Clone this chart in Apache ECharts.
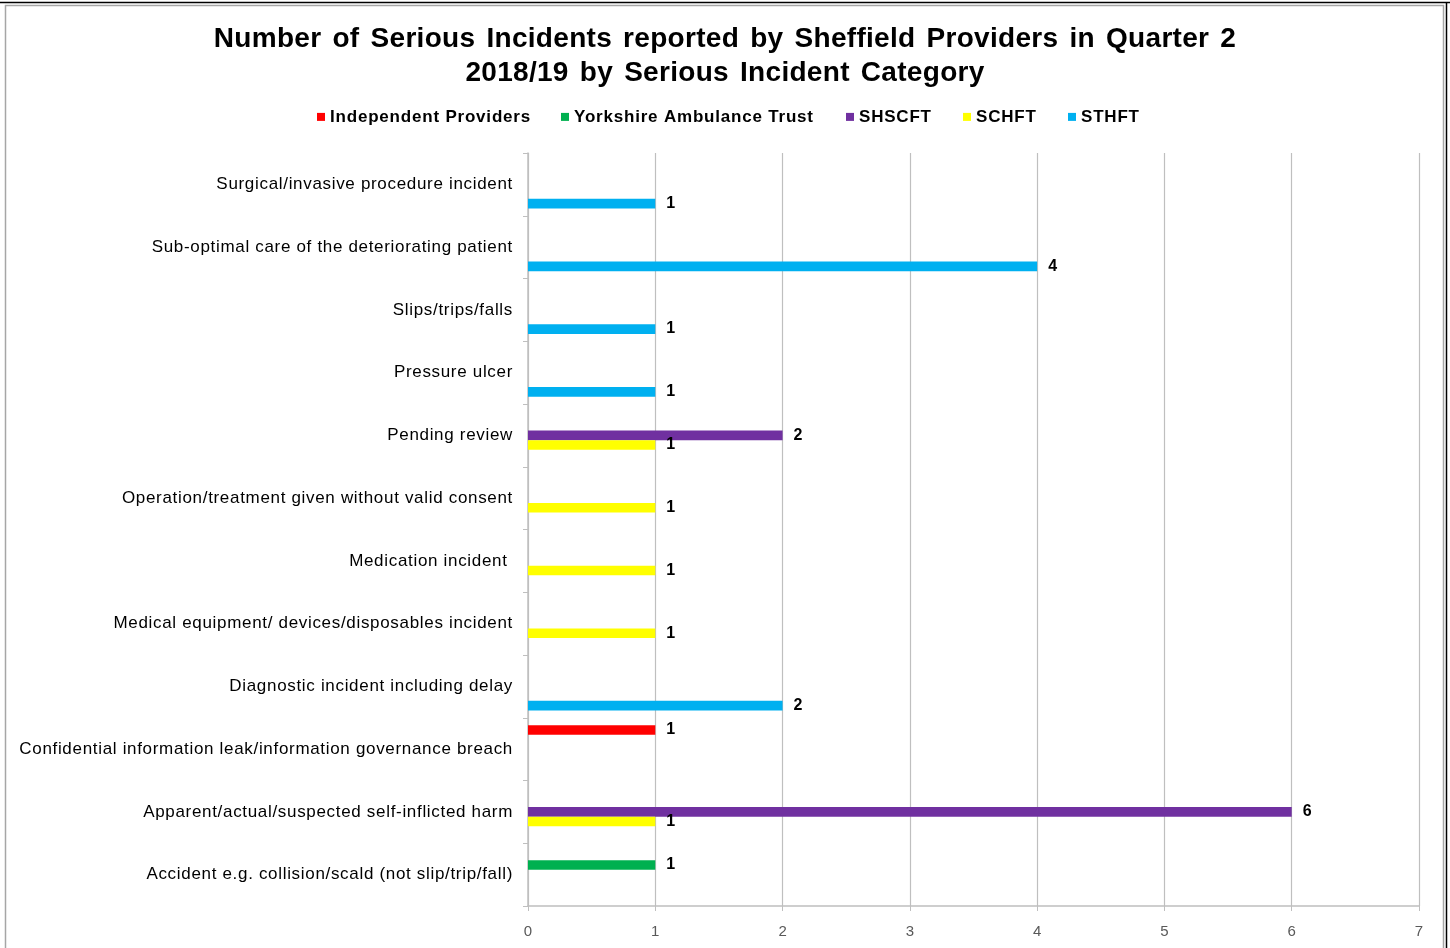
<!DOCTYPE html>
<html>
<head>
<meta charset="utf-8">
<script src="https://cdn.jsdelivr.net/npm/echarts@6/dist/echarts.min.js"></script>
<style>
html,body{margin:0;padding:0;background:#fff;}
#chart{width:1450px;height:948px;}
</style>
</head>
<body>
<div id="chart"></div>
<script>
var categories = [
  'Surgical/invasive procedure incident',
  'Sub-optimal care of the deteriorating patient',
  'Slips/trips/falls',
  'Pressure ulcer',
  'Pending review',
  'Operation/treatment given without valid consent',
  'Medication incident ',
  'Medical equipment/ devices/disposables incident',
  'Diagnostic incident including delay',
  'Confidential information leak/information governance breach',
  'Apparent/actual/suspected self-inflicted harm',
  'Accident e.g. collision/scald (not slip/trip/fall)'
];
var seriesNames = ['Independent Providers', 'Yorkshire Ambulance Trust', 'SHSCFT', 'SCHFT', 'STHFT'];
var independentProviders = [null, null, null, null, null, null, null, null, null, 1, null, null];
var yorkshireAmbulance   = [null, null, null, null, null, null, null, null, null, null, null, 1];
var shscft               = [null, null, null, null, 2, null, null, null, null, null, 6, null];
var schft                = [null, null, null, null, 1, 1, 1, 1, null, null, 1, null];
var sthft                = [1, 4, 1, 1, null, null, null, null, 2, null, null, null];
var xTicks = [0, 1, 2, 3, 4, 5, 6, 7];

var seriesData = [independentProviders, yorkshireAmbulance, shscft, schft, sthft];
var colors = ['#FF0000', '#00B050', '#7030A0', '#FFFF00', '#00B0F0'];
var legendLeft = [317, 561, 846, 963, 1068];
var FONT = 'Liberation Sans, Arial, sans-serif';

// Excel-like wider letter/word spacing for text (applied to drawing and measuring)
(function () {
  var proto = window.CanvasRenderingContext2D && CanvasRenderingContext2D.prototype;
  if (!proto || !('letterSpacing' in proto)) return;
  var desc = Object.getOwnPropertyDescriptor(proto, 'font');
  if (!desc || !desc.set) return;
  var hasWord = 'wordSpacing' in proto;
  Object.defineProperty(proto, 'font', {
    configurable: true,
    enumerable: desc.enumerable,
    get: desc.get,
    set: function (v) {
      desc.set.call(this, v);
      var m = /(\d+(?:\.\d+)?)px/.exec(v);
      var size = m ? parseFloat(m[1]) : 12;
      var bold = /bold/.test(v);
      var sp = 0, ws = 0;
      if (size >= 20) { sp = hasWord ? 0.3 : 0.75; ws = hasWord ? 3 : 0; }
      else if (size === 17 && bold) sp = 0.8;
      else if (size === 17) sp = 0.68;
      try {
        this.letterSpacing = sp + 'px';
        if (hasWord) this.wordSpacing = ws + 'px';
      } catch (e) {}
    }
  });
})();

var el = document.getElementById('chart');
var chart = echarts.init(el);

var series = seriesNames.map(function (name, i) {
  return {
    name: name,
    type: 'bar',
    data: seriesData[i],
    barWidth: 9.6,
    barGap: '0%',
    itemStyle: { color: colors[i] },
    label: {
      show: true,
      position: 'right',
      distance: 11,
      color: '#000',
      fontWeight: 'bold',
      fontSize: 16,
      fontFamily: FONT
    }
  };
});

var legends = seriesNames.map(function (name, i) {
  return {
    data: [name],
    top: 108,
    left: legendLeft[i],
    padding: 0,
    itemWidth: 8,
    itemHeight: 8,
    icon: 'rect',
    textStyle: {
      fontFamily: FONT,
      fontWeight: 'bold',
      fontSize: 17,
      color: '#000'
    }
  };
});

chart.setOption({
  animation: false,
  backgroundColor: '#fff',
  color: colors,
  title: {
    text: 'Number of Serious Incidents reported by Sheffield Providers in Quarter 2\n2018/19 by Serious Incident Category',
    left: 'center',
    top: 17,
    textStyle: {
      fontFamily: FONT,
      fontWeight: 'bold',
      fontSize: 28,
      lineHeight: 34,
      color: '#000'
    }
  },
  legend: legends,
  grid: { left: 528, right: 31, top: 153, bottom: 42, containLabel: false },
  xAxis: {
    type: 'value',
    min: xTicks[0],
    max: xTicks[xTicks.length - 1],
    interval: 1,
    axisLine: { show: true, lineStyle: { color: '#bfbfbf', width: 1.5 } },
    axisTick: { show: true, length: 5, lineStyle: { color: '#bfbfbf' } },
    axisLabel: {
      margin: 18,
      fontFamily: FONT,
      fontSize: 15,
      color: '#595959'
    },
    splitLine: { show: true, lineStyle: { color: '#bfbfbf', width: 1.2 } }
  },
  yAxis: {
    type: 'category',
    data: categories,
    inverse: true,
    axisLine: { show: true, lineStyle: { color: '#bfbfbf', width: 1.5 } },
    axisTick: { show: true, length: 5, lineStyle: { color: '#bfbfbf' } },
    axisLabel: {
      margin: 15,
      fontFamily: FONT,
      fontSize: 17,
      color: '#000'
    }
  },
  graphic: [
    { type: 'rect', shape: { x: 5.5, y: 5.5, width: 1438, height: 950 }, style: { fill: null, stroke: '#a6a6a6', lineWidth: 1.5 }, silent: true },
    { type: 'line', shape: { x1: 0, y1: 2.5, x2: 1450, y2: 2.5 }, style: { stroke: '#000', lineWidth: 1.5 }, silent: true },
    { type: 'line', shape: { x1: 1446.5, y1: 2, x2: 1446.5, y2: 948 }, style: { stroke: '#000', lineWidth: 1.5 }, silent: true }
  ],
  series: series
});
</script>
</body>
</html>
